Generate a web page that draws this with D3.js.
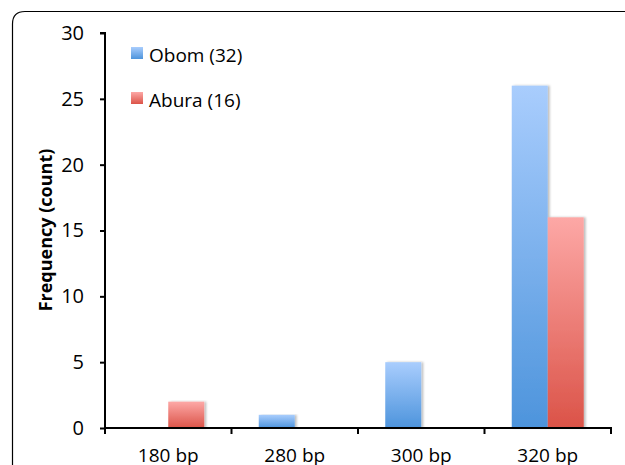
<!DOCTYPE html>
<html><head><meta charset="utf-8">
<script src="https://cdn.jsdelivr.net/npm/d3@7"></script>
<style>body{margin:0;background:#fff}svg{display:block}</style>
</head><body>
<script>
const categories = ["180 bp", "280 bp", "300 bp", "320 bp"];
const seriesNames = ["Obom (32)", "Abura (16)"];
const obom = [0, 1, 5, 26];
const abura = [2, 0, 0, 16];
const yTicks = [0, 5, 10, 15, 20, 25, 30];

const W = 625, H = 465;
const svg = d3.select("body").append("svg").attr("width", W).attr("height", H);
const font = "'Open Sans', 'Liberation Sans', sans-serif";

const defs = svg.append("defs");
function grad(id, top, bottom) {
  const g = defs.append("linearGradient").attr("id", id).attr("x1", 0).attr("y1", 0).attr("x2", 0).attr("y2", 1);
  g.append("stop").attr("offset", "0%").attr("stop-color", top);
  g.append("stop").attr("offset", "100%").attr("stop-color", bottom);
}
grad("gBlue", "#a9cdfd", "#4d94dc");
grad("gRed", "#fda8a6", "#db5348");
const f = defs.append("filter").attr("id", "sh").attr("x", "-20%").attr("y", "-5%").attr("width", "150%").attr("height", "110%");
f.append("feDropShadow").attr("dx", 2).attr("dy", 0).attr("stdDeviation", 1.2).attr("flood-color", "#000").attr("flood-opacity", 0.25);

// frame
svg.append("path").attr("d", "M12.5,480 L12.5,24 Q12.5,11.5 25,11.5 L640,11.5")
  .attr("fill", "none").attr("stroke", "#000").attr("stroke-width", 1.2);

const x0 = 105, x1 = 611, yTop = 33, yBot = 428;
const x = d3.scaleBand().domain(categories).range([x0, x1]);
const y = d3.scaleLinear().domain([0, 30]).range([yBot, yTop]);
const barW = 36;
const sub = d3.scaleBand().domain([0, 1]).range([-barW, barW]);

const series = [{vals: obom, fill: "url(#gBlue)"}, {vals: abura, fill: "url(#gRed)"}];
series.forEach((s, si) => {
  svg.append("g").selectAll("rect").data(categories).join("rect")
    .filter((d, i) => s.vals[i] > 0)
    .attr("x", d => x(d) + x.bandwidth() / 2 + sub(si))
    .attr("width", sub.bandwidth())
    .attr("y", (d) => y(s.vals[categories.indexOf(d)]))
    .attr("height", (d) => yBot - y(s.vals[categories.indexOf(d)]))
    .attr("fill", s.fill)
    .attr("filter", "url(#sh)");
});

// y axis
const ya = svg.append("g").attr("transform", `translate(${x0},0)`)
  .call(d3.axisLeft(y).tickValues(yTicks).tickSize(5).tickPadding(16));
ya.select(".domain").attr("stroke-width", 2).attr("d", `M-5,${yTop}H0V${yBot}`);
ya.selectAll(".tick line").attr("stroke-width", 2);
ya.selectAll("text").attr("font-family", font).attr("font-size", 20).attr("fill", "#000");

// x axis
const xa = svg.append("g").attr("transform", `translate(0,${yBot})`)
  .call(d3.axisBottom(x).tickSize(0).tickPadding(21));
xa.select(".domain").attr("stroke-width", 2).attr("d", `M${x0},6V0H${x1}V6`);
xa.selectAll("text").attr("font-family", font).attr("font-size", 19).attr("fill", "#000");
xa.append("g").selectAll("line").data(categories.slice(1)).join("line")
  .attr("x1", d => x(d)).attr("x2", d => x(d)).attr("y1", 0).attr("y2", 6)
  .attr("stroke", "#000").attr("stroke-width", 2);

// y label
svg.append("text").attr("transform", "translate(52,230) rotate(-90)")
  .attr("text-anchor", "middle").attr("font-family", font).attr("font-weight", "bold")
  .attr("font-size", 18).text("Frequency (count)");

// legend
const lg = svg.append("g");
seriesNames.forEach((n, i) => {
  const yy = 47 + i * 45;
  lg.append("rect").attr("x", 131).attr("y", yy).attr("width", 12).attr("height", 12)
    .attr("fill", i === 0 ? "url(#gBlue)" : "url(#gRed)");
  lg.append("text").attr("x", 149).attr("y", yy + 15).attr("font-family", font)
    .attr("font-size", 19).text(n);
});
</script>
</body></html>
